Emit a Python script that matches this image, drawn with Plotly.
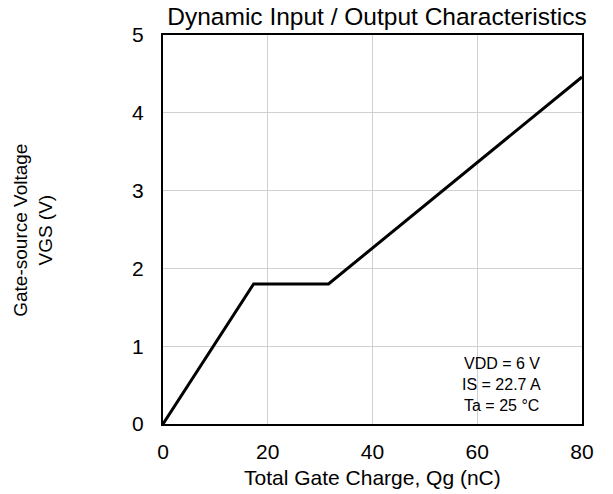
import plotly.graph_objects as go

qg = [0, 17.3, 31.6, 80]
vgs = [0, 1.8, 1.8, 4.46]
conditions = ["VDD = 6 V", "IS = 22.7 A", "Ta = 25 °C"]
condition_y = [0.784, 0.514, 0.244]

FONT = "Liberation Sans, Arial, sans-serif"

fig = go.Figure()
fig.add_trace(go.Scatter(x=qg, y=vgs, mode="lines",
                         line=dict(color="black", width=3), showlegend=False))

for t, yv in zip(conditions, condition_y):
    fig.add_annotation(x=0.809, y=yv, xref="paper", yref="y", text=t,
                       showarrow=False, font=dict(family=FONT, size=16, color="black"),
                       xanchor="center", yanchor="middle")

# axis titles as annotations for precise placement
fig.add_annotation(x=0.5, y=-0.137, xref="paper", yref="paper",
                   text="Total Gate Charge, Qg (nC)", showarrow=False,
                   font=dict(family=FONT, size=21, color="black"),
                   xanchor="center", yanchor="middle")
fig.add_annotation(x=-0.31, y=0.497, xref="paper", yref="paper",
                   text="Gate-source Voltage<br>VGS (V)", showarrow=False, textangle=-90,
                   font=dict(family=FONT, size=19, color="black"),
                   xanchor="center", yanchor="middle")

fig.update_layout(
    width=613, height=494,
    margin=dict(l=163, r=31, t=35, b=70),
    paper_bgcolor="white", plot_bgcolor="white",
    font=dict(family=FONT, color="black"),
    title=dict(text="Dynamic Input / Output Characteristics", x=0.615, xanchor="center",
               y=0.966, yanchor="middle", font=dict(size=24.5, family=FONT)),
)
fig.update_xaxes(range=[0, 80], dtick=20, showgrid=True, gridcolor="#d0d0d0", gridwidth=1,
                 showline=True, linecolor="black", linewidth=2, mirror=True,
                 ticks="", tickfont=dict(size=21), zeroline=False, ticklabelstandoff=8)
fig.update_yaxes(range=[0, 5], dtick=1, showgrid=True, gridcolor="#d0d0d0", gridwidth=1,
                 showline=True, linecolor="black", linewidth=2, mirror=True,
                 ticks="", tickfont=dict(size=21), zeroline=False, ticklabelstandoff=13)

fig.write_html("out.html")
